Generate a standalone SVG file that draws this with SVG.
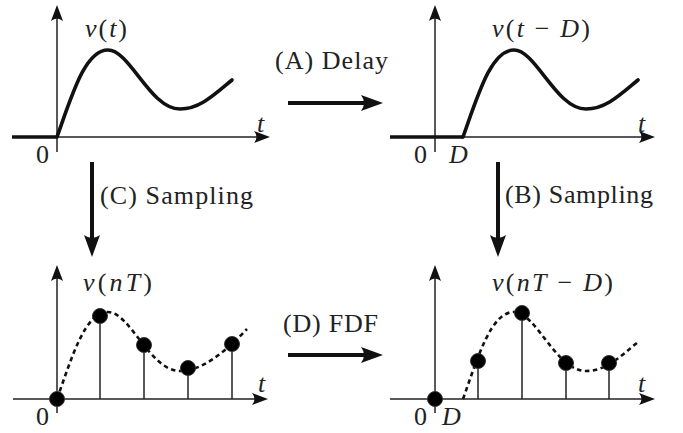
<svg xmlns="http://www.w3.org/2000/svg" width="683" height="433" viewBox="0 0 683 433" font-family="'Liberation Serif', 'DejaVu Serif', serif">
<defs>
<style>
.ax{stroke:#222;stroke-width:1.5;fill:none}
.neg{stroke:#111;stroke-width:3.6;fill:none;stroke-linecap:butt}
.sig{stroke:#111;stroke-width:3.6;fill:none;stroke-linecap:round}
.dash{stroke:#111;stroke-width:2.6;fill:none;stroke-dasharray:4.5 3.5}
.stem{stroke:#222;stroke-width:1.5}
.dot{fill:#000;stroke:#333;stroke-width:1}
.big{stroke:#111;stroke-width:4;fill:none}
text{font-family:'Liberation Serif','DejaVu Serif',serif;font-size:26px;fill:#222}
.it{font-style:italic}
</style>
<marker id="axh" markerUnits="userSpaceOnUse" markerWidth="18" markerHeight="14" refX="8" refY="7" orient="auto">
<path d="M16,7 L0,1 Q5,7 0,13 Z" fill="#111"/>
</marker>
<marker id="bigh" markerUnits="userSpaceOnUse" markerWidth="24" markerHeight="18" refX="12" refY="9" orient="auto">
<path d="M22,9 L0,1 Q6,9 0,17 Z" fill="#111"/>
</marker>
</defs>
<rect width="683" height="433" fill="#fff"/>

<g id="panel-tl">
<line class="ax" x1="57" y1="152" x2="57" y2="13" marker-end="url(#axh)"/>
<line class="ax" x1="57" y1="137" x2="262" y2="137" marker-end="url(#axh)"/>
<line class="neg" x1="12" y1="137" x2="57" y2="137"/>
<path class="sig" d="M57,137 C72,95 85,50 108,50 C130,50 150,109 180,109 C200,109 215,94 232,80"/>
<text x="85" y="37" textLength="42"><tspan class="it">v</tspan>(<tspan class="it">t</tspan>)</text>
<text class="it" x="257" y="132">t</text>
<text x="36" y="163">0</text>
</g>

<g id="panel-tr">
<line class="ax" x1="435" y1="152" x2="435" y2="13" marker-end="url(#axh)"/>
<line class="ax" x1="435" y1="137" x2="647" y2="137" marker-end="url(#axh)"/>
<line class="neg" x1="390" y1="137" x2="463" y2="137"/>
<path class="sig" d="M463,137 C478,95 491,50 514,50 C536,50 556,109 586,109 C606,109 621,94 638,80"/>
<text x="492" y="37" textLength="98"><tspan class="it">v</tspan>(<tspan class="it">t</tspan> − <tspan class="it">D</tspan>)</text>
<text class="it" x="638" y="132">t</text>
<text x="414" y="163">0</text>
<text class="it" x="449" y="163">D</text>
</g>

<g id="panel-bl">
<line class="ax" x1="57" y1="413" x2="57" y2="273" marker-end="url(#axh)"/>
<line class="ax" x1="13" y1="399" x2="260" y2="399" marker-end="url(#axh)"/>
<path class="dash" d="M57,399 C72,357 85,312 108,312 C130,312 150,371 180,371 C202,371 225,352 247,329"/>
<line class="stem" x1="100" y1="316" x2="100" y2="399"/>
<line class="stem" x1="144" y1="345" x2="144" y2="399"/>
<line class="stem" x1="188" y1="368" x2="188" y2="399"/>
<line class="stem" x1="232" y1="344" x2="232" y2="399"/>
<circle class="dot" cx="57" cy="399" r="7.5"/>
<circle class="dot" cx="100" cy="316" r="7.5"/>
<circle class="dot" cx="144" cy="345" r="7.5"/>
<circle class="dot" cx="188" cy="368" r="7.5"/>
<circle class="dot" cx="232" cy="344" r="7.5"/>
<text x="83" y="291" textLength="69"><tspan class="it">v</tspan>(<tspan class="it">nT</tspan>)</text>
<text class="it" x="258" y="392">t</text>
<text x="36" y="425">0</text>
</g>

<g id="panel-br">
<line class="ax" x1="435" y1="413" x2="435" y2="273" marker-end="url(#axh)"/>
<line class="ax" x1="390" y1="399" x2="647" y2="399" marker-end="url(#axh)"/>
<path class="dash" d="M463,399 C478,357 491,312 514,312 C536,312 556,371 586,371 C606,371 621,356 638,342"/>
<line class="stem" x1="478" y1="361" x2="478" y2="399"/>
<line class="stem" x1="522" y1="313" x2="522" y2="399"/>
<line class="stem" x1="566" y1="363" x2="566" y2="399"/>
<line class="stem" x1="609" y1="363" x2="609" y2="399"/>
<circle class="dot" cx="435" cy="399" r="7.5"/>
<circle class="dot" cx="478" cy="361" r="7.5"/>
<circle class="dot" cx="522" cy="313" r="7.5"/>
<circle class="dot" cx="566" cy="363" r="7.5"/>
<circle class="dot" cx="609" cy="363" r="7.5"/>
<text x="492" y="291" textLength="121"><tspan class="it">v</tspan>(<tspan class="it">nT</tspan> − <tspan class="it">D</tspan>)</text>
<text class="it" x="638" y="392">t</text>
<text x="414" y="425">0</text>
<text class="it" x="442" y="425">D</text>
</g>

<g id="connectors">
<line class="big" x1="288" y1="103" x2="373" y2="103" marker-end="url(#bigh)"/>
<text x="275" y="69" textLength="113">(A) Delay</text>
<line class="big" x1="498" y1="162" x2="498" y2="247" marker-end="url(#bigh)"/>
<text x="505" y="203" textLength="148">(B) Sampling</text>
<line class="big" x1="92" y1="162" x2="92" y2="247" marker-end="url(#bigh)"/>
<text x="100" y="204" textLength="153">(C) Sampling</text>
<line class="big" x1="288" y1="355" x2="373" y2="355" marker-end="url(#bigh)"/>
<text x="283" y="332" textLength="95">(D) FDF</text>
</g>
</svg>
